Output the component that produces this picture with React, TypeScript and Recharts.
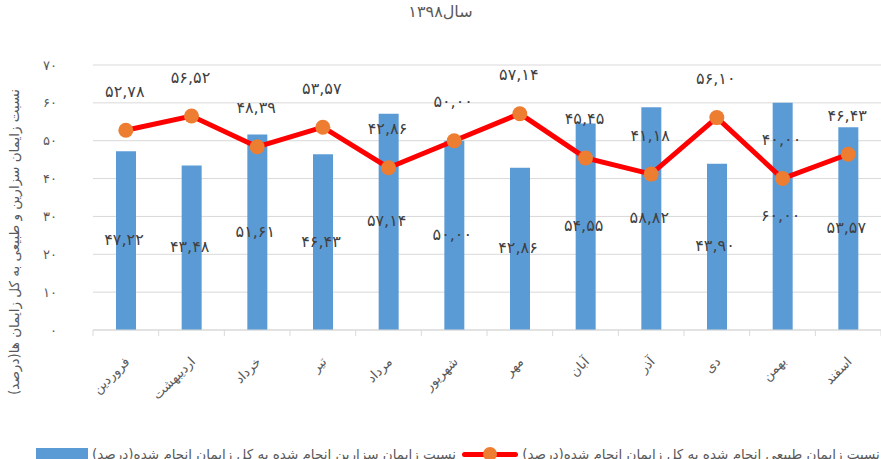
import React from 'react';
import {
  ComposedChart,
  Bar,
  Line,
  XAxis,
  YAxis,
  CartesianGrid,
  LabelList,
} from 'recharts';

const months = [
  'فروردین',
  'اردیبهشت',
  'خرداد',
  'تیر',
  'مرداد',
  'شهریور',
  'مهر',
  'آبان',
  'آذر',
  'دی',
  'بهمن',
  'اسفند',
];

// bars (blue) and line (red), percent
const barValues = [47.22, 43.48, 51.61, 46.43, 57.14, 50.0, 42.86, 54.55, 58.82, 43.9, 60.0, 53.57];
const lineValues = [52.78, 56.52, 48.39, 53.57, 42.86, 50.0, 57.14, 45.45, 41.18, 56.1, 40.0, 46.43];

const yTicks = [0, 10, 20, 30, 40, 50, 60, 70];

const barName = 'نسبت زایمان سزارین انجام شده به کل زایمان انجام شده(درصد)';
const lineName = 'نسبت زایمان طبیعی انجام شده به کل زایمان انجام شده(درصد)';
const title = 'سال۱۳۹۸';
const yTitle = 'نسبت زایمان سزارین و طبیعی به کل زایمان ها(درصد)';

const FONT = '"DejaVu Sans", sans-serif';
const GRAY = '#595959';
const AXIS = '#D9D9D9';

const faDigits = '۰۱۲۳۴۵۶۷۸۹';
const toFa = (s: string) => s.replace(/[0-9]/g, (d) => faDigits[Number(d)]);
const fmt = (v: number) => toFa(v.toFixed(2)).replace('.', ',');

const data = months.map((m, i) => ({
  month: m,
  natural: barValues[i],
  csec: lineValues[i],
}));

// month label rotated, plus the category-boundary tick marks
const MonthTick = (props: any) => {
  const { x, y, payload, index } = props;
  const half = payload.offset || 0;
  const top = 330;
  const ax = x + 2;
  const ay = y + 22;
  return (
    <g>
      <line x1={x - half} x2={x - half} y1={top} y2={top + 6} stroke={AXIS} />
      {index === months.length - 1 && (
        <line x1={x + half} x2={x + half} y1={top} y2={top + 6} stroke={AXIS} />
      )}
      <text
        x={ax}
        y={ay}
        transform={`rotate(-45 ${ax} ${ay})`}
        textAnchor="end"
        dominantBaseline="middle"
        fill={GRAY}
        fontSize={13}
        fontFamily={FONT}
      >
        {payload.value}
      </text>
    </g>
  );
};

const BarLabel = (props: any) => {
  const { x, y, width, height, value } = props;
  return (
    <text
      x={x + width / 2 - 2}
      y={y + height / 2}
      textAnchor="middle"
      dominantBaseline="middle"
      fill="#404040"
      fontSize={16}
      fontFamily={FONT}
    >
      {fmt(value)}
    </text>
  );
};

const LineLabel = (props: any) => {
  const { x, y, value } = props;
  return (
    <text
      x={x - 1}
      y={y - 38}
      textAnchor="middle"
      dominantBaseline="middle"
      fill="#404040"
      fontSize={16}
      fontFamily={FONT}
    >
      {fmt(value)}
    </text>
  );
};

const YTitle = () => (
  <text
    x={15}
    y={242}
    transform="rotate(-90 15 242)"
    textAnchor="middle"
    dominantBaseline="middle"
    fill={GRAY}
    fontSize={13.5}
    fontFamily={FONT}
  >
    {yTitle}
  </text>
);

export default function App() {
  return (
    <div style={{ position: 'absolute', left: 0, top: 0, width: 881, height: 459, overflow: 'hidden', background: '#fff' }}>
      <div
        style={{
          position: 'absolute',
          top: 2,
          left: 0,
          width: 881,
          textAlign: 'center',
          fontFamily: FONT,
          fontSize: 16,
          color: GRAY,
        }}
      >
        {title}
      </div>
      <ComposedChart width={881} height={459} data={data} margin={{ top: 65, right: 0, left: 0, bottom: 0 }}>
        <CartesianGrid vertical={false} stroke={AXIS} strokeWidth={1} />
        <XAxis
          dataKey="month"
          height={129}
          axisLine={{ stroke: AXIS }}
          tickLine={false}
          interval={0}
          tick={<MonthTick />}
        />
        <YAxis
          width={93}
          domain={[0, 70]}
          ticks={yTicks}
          axisLine={false}
          tickLine={false}
          tickMargin={30}
          tick={{ fill: GRAY, fontSize: 13, fontFamily: FONT }}
          tickFormatter={(v: number) => toFa(String(v))}
          label={<YTitle />}
        />
        <Bar dataKey="natural" name={barName} fill="#5B9BD5" barSize={20} isAnimationActive={false}>
          <LabelList dataKey="natural" content={<BarLabel />} />
        </Bar>
        <Line
          dataKey="csec"
          name={lineName}
          stroke="#FF0000"
          strokeWidth={5}
          dot={{ r: 7.5, fill: '#ED7D31', stroke: '#ED7D31', strokeWidth: 0 }}
          activeDot={false}
          isAnimationActive={false}
        >
          <LabelList dataKey="csec" content={<LineLabel />} />
        </Line>
      </ComposedChart>
      <div
        style={{
          position: 'absolute',
          top: 446,
          left: 36,
          display: 'flex',
          alignItems: 'center',
          whiteSpace: 'nowrap',
          fontFamily: FONT,
          fontSize: 13.5,
          color: GRAY,
        }}
      >
        <span style={{ display: 'inline-block', width: 52, height: 12, background: '#5B9BD5' }} />
        <span style={{ direction: 'rtl', marginLeft: 4 }}>{barName}</span>
        <span style={{ position: 'relative', display: 'inline-block', width: 56, height: 14, marginLeft: 6 }}>
          <span style={{ position: 'absolute', left: 0, top: 5, width: 56, height: 5, background: '#FF0000', borderRadius: 3 }} />
          <span style={{ position: 'absolute', left: 21, top: 0, width: 14, height: 14, background: '#ED7D31', borderRadius: 7 }} />
        </span>
        <span style={{ direction: 'rtl', marginLeft: 4 }}>{lineName}</span>
      </div>
    </div>
  );
}
